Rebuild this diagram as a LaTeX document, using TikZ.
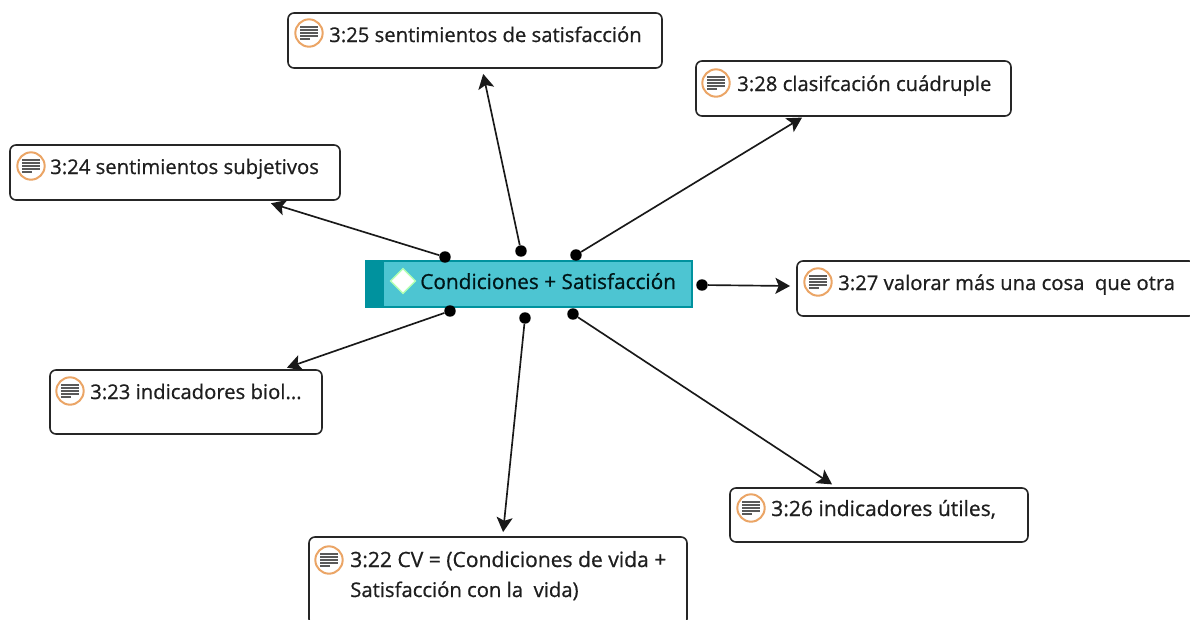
\documentclass[tikz,border=0pt]{standalone}
\usepackage{fontspec}
\setmainfont{Open Sans}[FakeBold=0.7]
\usetikzlibrary{arrows.meta,shapes.geometric}
\definecolor{teal1}{HTML}{4DC5D2}
\definecolor{teal2}{HTML}{00929E}
\definecolor{ring}{HTML}{EBA566}
\definecolor{txt}{HTML}{1E1E1E}
\tikzset{
 card/.style={draw=black!85,line width=1.2pt,rounded corners=4.5pt,fill=white},
 label/.style={inner sep=0pt,anchor=base west,font=\fontsize{15.2}{18}\selectfont,text=txt,align=left},
 widelabel/.style={label,font=\fontsize{15.8}{18}\selectfont},
 ring/.style={circle,draw=ring,fill=white,line width=1.5pt,inner sep=0pt},
 dot/.style={circle,fill=black,inner sep=0pt,minimum size=8.6pt},
 link/.style={draw=black!90,line width=1.25pt,-{Stealth[length=11pt,width=12pt,inset=2.5pt]}},
 anchorpt/.style={inner sep=0pt},
}
\newcommand{\docicon}[2]{%
 \node[ring,minimum size=20.5pt] (ic#2) at (#1) {};
 \foreach \dy/\w in {-4.5/6.6,-2.25/6.6,0/6.6,2.25/6.6,4.5/3.5}{
  \draw[gray!70!black,line width=1.1pt] ([shift={(-6.6pt,-\dy pt)}]ic#2.center) -- ++(\w pt*2,0);
 }%
}
\begin{document}
\begin{tikzpicture}[x=0.75pt,y=-0.75pt]
\useasboundingbox (0,0) rectangle (1190,619);
% boxes
\draw[card] (288,13) rectangle (662,68);
\draw[card] (696,61) rectangle (1011,116);
\draw[card] (10,145) rectangle (340,200);
\draw[card] (797,261) rectangle (1195,316);
\draw[card] (50,370) rectangle (322,434);
\draw[card] (730,488) rectangle (1028,542);
\draw[card] (309,537) rectangle (687,625);
% anchors for connectors
\node[anchorpt] (b25) at (483,73) {};
\node[anchorpt] (b28) at (803,117) {};
\node[anchorpt] (b24) at (270,203) {};
\node[anchorpt] (b27) at (791,286) {};
\node[anchorpt] (b23) at (286,368) {};
\node[anchorpt] (b26) at (833,485) {};
\node[anchorpt] (b22) at (503,533) {};
% centre
\fill[teal1] (366,261) rectangle (692,307);
\fill[teal2] (366,261) rectangle (384,307);
\draw[teal2,line width=.8pt] (366,261) rectangle (692,307);
\node[diamond,fill=white,draw=white!70!green,line width=1pt,inner sep=0pt,minimum width=19pt,minimum height=19pt] (hubicon) at (403,281) {};
\node[label,text=black!85!teal2,font=\fontsize{15.6}{18}\selectfont] (hub) at (420,289) {Condiciones + Satisfacción};
% dots
\node[dot] (d25) at (521,251) {};
\node[dot] (d28) at (576,255) {};
\node[dot] (d24) at (445,257) {};
\node[dot] (d27) at (702,285) {};
\node[dot] (d23) at (450,311) {};
\node[dot] (d22) at (525,318) {};
\node[dot] (d26) at (573,314) {};
% connectors
\draw[link] (d25) -- (b25);
\draw[link] (d28) -- (b28);
\draw[link] (d24) -- (b24);
\draw[link] (d27) -- (b27);
\draw[link] (d23) -- (b23);
\draw[link] (d22) -- (b22);
\draw[link] (d26) -- (b26);
% texts
\docicon{309,33}{a}
\node[label] (t25) at (329,42) {3:25 sentimientos de satisfacción};
\docicon{716,83}{b}
\node[label] (t28) at (737,91) {3:28 clasifcación cuádruple};
\docicon{31,166}{c}
\node[label] (t24) at (50,174) {3:24 sentimientos subjetivos};
\docicon{818,282}{d}
\node[label] (t27) at (838,290) {3:27 valorar más una cosa\ \ que otra};
\docicon{70,391}{e}
\node[label] (t23) at (90,399) {3:23 indicadores biol...};
\docicon{751,508}{f}
\node[widelabel] (t26) at (771,516) {3:26 indicadores útiles,};
\docicon{329,560}{g}
\node[widelabel] (t22a) at (350,567) {3:22 CV = (Condiciones de vida +};
\node[label] (t22b) at (350,597) {Satisfacción con la\ \ vida)};
\end{tikzpicture}
\end{document}
